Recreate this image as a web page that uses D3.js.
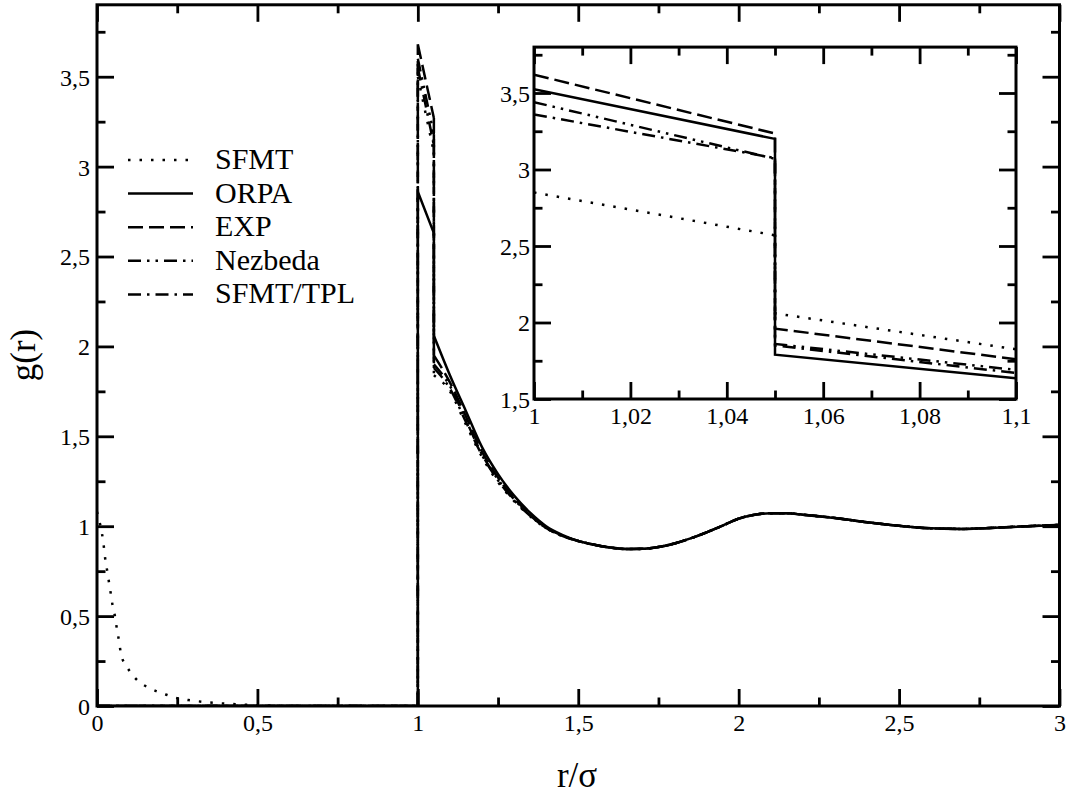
<!DOCTYPE html>
<html>
<head>
<meta charset="utf-8">
<script src="https://cdn.jsdelivr.net/npm/d3@7"></script>
<style>
  body { margin: 0; background: #fff; }
  svg { display: block; }
</style>
</head>
<body>
<div id="chart"></div>
<script>
// ---- data ----
// SFMT branch inside the core (main panel)
const coreR = [0, 0.007, 0.015, 0.02, 0.027, 0.033, 0.038, 0.043, 0.048, 0.056, 0.061, 0.066,
               0.076, 0.09, 0.109, 0.131, 0.158, 0.188, 0.219, 0.252, 0.285, 0.35, 0.44, 0.5, 0.56];
const coreG = [1.08, 1.03, 0.965, 0.905, 0.80, 0.74, 0.68, 0.625, 0.565, 0.50, 0.44, 0.39,
               0.28, 0.228, 0.176, 0.135, 0.104, 0.08, 0.061, 0.043, 0.033, 0.02, 0.009, 0.004, 0];

// contact region of the main panel, r from 0 to 1.45
const headR = [0, 1, 1, 1.05, 1.05, 1.1, 1.15, 1.2, 1.25, 1.3, 1.35, 1.4, 1.45];
const orpaHead = [0, 0, 2.86, 2.63, 2.06, 1.84, 1.64, 1.44, 1.29, 1.17, 1.075, 1.0, 0.952];
const expHead  = [0, 0, 3.68, 3.27, 1.95, 1.80, 1.61, 1.415, 1.27, 1.155, 1.065, 0.993, 0.948];
const nezHead  = [0, 0, 3.60, 3.18, 1.90, 1.78, 1.59, 1.40, 1.26, 1.15, 1.06, 0.99, 0.946];
const tplHead  = [0, 0, 3.55, 3.12, 1.88, 1.765, 1.58, 1.395, 1.255, 1.145, 1.058, 0.99, 0.946];
const sfmtHead = [0, 3.50, 3.08, 1.84, 1.75, 1.565, 1.385, 1.245, 1.14, 1.055, 0.988, 0.945];

// all curves coincide beyond r = 1.5
const tailR = [1.5, 1.55, 1.6, 1.65, 1.7, 1.75, 1.8, 1.85, 1.9, 1.95, 2.0, 2.05, 2.1, 2.15, 2.2,
               2.3, 2.4, 2.5, 2.6, 2.7, 2.8, 2.9, 3.0];
const tailG = [0.918, 0.897, 0.881, 0.873, 0.874, 0.884, 0.904, 0.932, 0.966, 1.003, 1.042, 1.064,
               1.072, 1.072, 1.064, 1.046, 1.022, 1.002, 0.988, 0.985, 0.992, 1.0, 1.007];

// inset, r from 1 to 1.1
const insetR = [1, 1.05, 1.05, 1.1];
const insetSfmt = [2.85, 2.57, 2.06, 1.825];
const insetOrpa = [3.525, 3.20, 1.79, 1.635];
const insetExp  = [3.62, 3.235, 1.96, 1.76];
const insetNez  = [3.44, 3.07, 1.86, 1.69];
const insetTpl  = [3.36, 3.075, 1.85, 1.67];

const names = ["SFMT", "ORPA", "EXP", "Nezbeda", "SFMT/TPL"];
const dashes = ["2.5,9", null, "15,6", "13,6,2.5,6,2.5,6", "13,6,2.5,6"];

const mainX = [
  coreR.concat(headR.slice(1), tailR),
  headR.concat(tailR), headR.concat(tailR), headR.concat(tailR), headR.concat(tailR)
];
const mainY = [
  coreG.concat(sfmtHead, tailG),
  orpaHead.concat(tailG), expHead.concat(tailG), nezHead.concat(tailG), tplHead.concat(tailG)
];
const insetY = [insetSfmt, insetOrpa, insetExp, insetNez, insetTpl];

const xMajor = [0, 0.5, 1, 1.5, 2, 2.5, 3];
const xMinor = [0.25, 0.75, 1.25, 1.75, 2.25, 2.75];
const yMajor = [0, 0.5, 1, 1.5, 2, 2.5, 3, 3.5];
const yMinor = [0.25, 0.75, 1.25, 1.75, 2.25, 2.75, 3.25, 3.75];
const ixMajor = [1, 1.02, 1.04, 1.06, 1.08, 1.1];
const ixMinor = [1.01, 1.03, 1.05, 1.07, 1.09];
const iyMajor = [1.5, 2, 2.5, 3, 3.5];
const iyMinor = [1.75, 2.25, 2.75, 3.25, 3.75];

// ---- drawing ----
const width = 1069, height = 795;
const font = "'Liberation Serif', 'Times New Roman', serif";

const svg = d3.select("#chart")
  .append("svg")
    .attr("width", width)
    .attr("height", height)
    .attr("viewBox", `0 0 ${width} ${height}`)
    .style("background", "#fff");

const x = d3.scaleLinear([0, 3], [97, 1059.5]);
const y = d3.scaleLinear([0, 3.9], [706, 4.8]);
const ix = d3.scaleLinear([1, 1.1], [534, 1016]);
const iy = d3.scaleLinear([1.5, 3.8], [399, 47.1]);

const fmt = d => String(+d.toFixed(2)).replace(".", ",");
const smooth = d3.line().curve(d3.curveMonotoneX);
const straight = d3.line();

// monotone pieces between the vertical jumps, straight lines for the jumps
function curvePath(rs, gs, sx, sy) {
  const pts = rs.map((r, i) => [sx(r), sy(gs[i])]);
  let d = "";
  let run = [pts[0]];
  for (let i = 1; i < pts.length; i++) {
    if (rs[i] === rs[i - 1]) {
      if (run.length > 1) d += smooth(run);
      d += straight([pts[i - 1], pts[i]]);
      run = [pts[i]];
    } else {
      run.push(pts[i]);
    }
  }
  if (run.length > 1) d += smooth(run);
  return d;
}

function frameAxes(g, sx, sy, xMaj, xMin, yMaj, yMin, yLabelGap) {
  const [x0, x1] = sx.range();
  const [y0, y1] = sy.range();
  const style = a => {
    a.select(".domain").remove();
    a.selectAll("line").attr("stroke-width", 2.8);
    a.attr("font-family", font).attr("font-size", 24);
  };

  g.append("g").attr("transform", `translate(0,${y0})`)
    .call(d3.axisBottom(sx).tickValues(xMaj).tickSize(-17).tickFormat(fmt))
    .call(style)
    .call(a => a.selectAll("text").attr("y", 25).attr("dy", null).attr("fill", "#000"));
  g.append("g").attr("transform", `translate(0,${y0})`)
    .call(d3.axisBottom(sx).tickValues(xMin).tickSize(-8.5).tickFormat(""))
    .call(style);
  g.append("g").attr("transform", `translate(0,${y1})`)
    .call(d3.axisTop(sx).tickValues(xMaj).tickSize(-17).tickFormat(""))
    .call(style);
  g.append("g").attr("transform", `translate(0,${y1})`)
    .call(d3.axisTop(sx).tickValues(xMin).tickSize(-8.5).tickFormat(""))
    .call(style);

  g.append("g").attr("transform", `translate(${x0},0)`)
    .call(d3.axisLeft(sy).tickValues(yMaj).tickSize(-17).tickFormat(fmt))
    .call(style)
    .call(a => a.selectAll("text").attr("x", -yLabelGap).attr("dy", "0.35em").attr("fill", "#000"));
  g.append("g").attr("transform", `translate(${x0},0)`)
    .call(d3.axisLeft(sy).tickValues(yMin).tickSize(-8.5).tickFormat(""))
    .call(style);
  g.append("g").attr("transform", `translate(${x1},0)`)
    .call(d3.axisRight(sy).tickValues(yMaj).tickSize(-17).tickFormat(""))
    .call(style);
  g.append("g").attr("transform", `translate(${x1},0)`)
    .call(d3.axisRight(sy).tickValues(yMin).tickSize(-8.5).tickFormat(""))
    .call(style);

  g.append("rect")
    .attr("x", x0).attr("y", y1)
    .attr("width", x1 - x0).attr("height", y0 - y1)
    .attr("fill", "none")
    .attr("stroke", "#000")
    .attr("stroke-width", 3);
}

// clip regions
const defs = svg.append("defs");
defs.append("clipPath").attr("id", "clip-main")
  .append("rect").attr("x", 97).attr("y", 4.8).attr("width", 962.5).attr("height", 701.2);
defs.append("clipPath").attr("id", "clip-inset")
  .append("rect").attr("x", 534).attr("y", 47.1).attr("width", 482).attr("height", 351.9);

// main panel curves
svg.append("g")
    .attr("clip-path", "url(#clip-main)")
  .selectAll("path")
  .data(names)
  .join("path")
    .attr("d", (d, i) => curvePath(mainX[i], mainY[i], x, y))
    .attr("fill", "none")
    .attr("stroke", "#000")
    .attr("stroke-width", 2.5)
    .attr("stroke-dasharray", (d, i) => dashes[i]);

frameAxes(svg.append("g"), x, y, xMajor, xMinor, yMajor, yMinor, 7);

// axis titles
svg.append("text")
    .attr("transform", "translate(35,355) rotate(-90)")
    .attr("text-anchor", "middle")
    .attr("font-family", font)
    .attr("font-size", 35)
    .text("g(r)");

svg.append("text")
    .attr("x", 577)
    .attr("y", 787)
    .attr("text-anchor", "middle")
    .attr("font-family", font)
    .attr("font-size", 35)
    .text("r/σ");

// legend
const legendStep = 33.6;
const legend = svg.append("g")
  .selectAll("g")
  .data(names)
  .join("g")
    .attr("transform", (d, i) => `translate(0,${169 + i * legendStep})`);

legend.append("line")
    .attr("x1", 128).attr("x2", 193)
    .attr("y1", -9).attr("y2", -9)
    .attr("stroke", "#000")
    .attr("stroke-width", 2.5)
    .attr("stroke-dasharray", (d, i) => dashes[i]);

legend.append("text")
    .attr("x", 215)
    .attr("font-family", font)
    .attr("font-size", 30)
    .text(d => d);

// inset
const inset = svg.append("g");
inset.append("rect")
    .attr("x", 534).attr("y", 47.1)
    .attr("width", 482).attr("height", 351.9)
    .attr("fill", "#fff");

inset.append("g")
    .attr("clip-path", "url(#clip-inset)")
  .selectAll("path")
  .data(names)
  .join("path")
    .attr("d", (d, i) => straight(insetR.map((r, k) => [ix(r), iy(insetY[i][k])])))
    .attr("fill", "none")
    .attr("stroke", "#000")
    .attr("stroke-width", 2.5)
    .attr("stroke-dasharray", (d, i) => dashes[i]);

frameAxes(inset.append("g"), ix, iy, ixMajor, ixMinor, iyMajor, iyMinor, 4);
</script>
</body>
</html>
